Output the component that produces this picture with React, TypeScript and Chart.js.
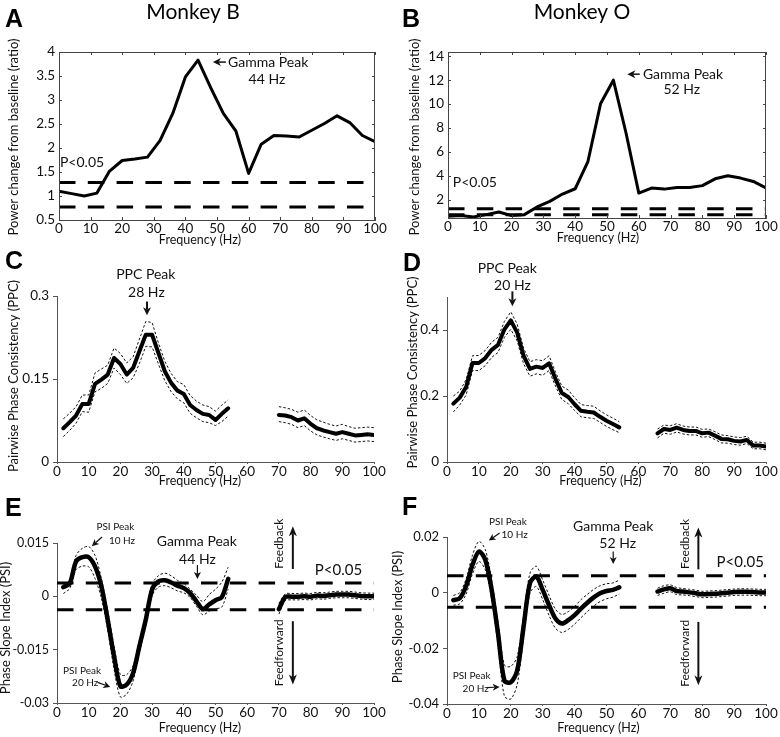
import React, { useEffect, useRef } from 'react';
import { Chart, registerables } from 'chart.js';

Chart.register(...registerables);

const FONT = 'Lato, "Open Sans", sans-serif';
const BOLD = '"Liberation Sans", Arial, sans-serif';

// ---------------- data ----------------
const xTicks = [0, 10, 20, 30, 40, 50, 60, 70, 80, 90, 100];

const freqPower = [0, 4, 8, 12, 16, 20, 24, 28, 32, 36, 40, 44, 48, 52, 56, 60, 64, 68, 72, 76, 80, 84, 88, 92, 96, 100];
const powerMonkeyB = [1.10, 1.05, 1.00, 1.06, 1.52, 1.74, 1.77, 1.81, 2.16, 2.72, 3.48, 3.83, 3.26, 2.72, 2.35, 1.47, 2.08, 2.26, 2.25, 2.23, 2.37, 2.51, 2.67, 2.53, 2.26, 2.13];
const powerMonkeyO = [0.64, 0.70, 0.59, 0.78, 1.00, 0.70, 0.78, 1.42, 1.89, 2.50, 2.94, 5.21, 10.06, 12.0, 7.57, 2.58, 3.00, 2.91, 3.05, 3.05, 3.20, 3.77, 4.02, 3.83, 3.55, 3.00];
const sigPowerB = [1.28, 0.77];
const sigPowerO = [1.28, 0.77];

const ppcFreqB = [2, 4, 6, 8, 10, 12, 14, 16, 18, 20, 22, 24, 26, 28, 30, 32, 34, 36, 38, 40, 42, 44, 46, 48, 50, 52, 54,
  70, 72, 74, 76, 78, 80, 82, 84, 86, 88, 90, 92, 94, 96, 98, 100];
const ppcMeanB = [0.061, 0.072, 0.084, 0.105, 0.105, 0.141, 0.149, 0.158, 0.188, 0.177, 0.158, 0.170, 0.200, 0.230, 0.230, 0.197, 0.164, 0.143, 0.129, 0.123, 0.103, 0.094, 0.087, 0.085, 0.076, 0.087, 0.097,
  0.085, 0.084, 0.081, 0.075, 0.079, 0.069, 0.061, 0.057, 0.054, 0.051, 0.054, 0.051, 0.048, 0.049, 0.050, 0.049];
const ppcUpperB = [0.078, 0.088, 0.100, 0.121, 0.121, 0.161, 0.168, 0.175, 0.206, 0.196, 0.179, 0.190, 0.222, 0.254, 0.252, 0.215, 0.182, 0.160, 0.145, 0.140, 0.120, 0.110, 0.103, 0.100, 0.092, 0.103, 0.112,
  0.100, 0.098, 0.095, 0.090, 0.094, 0.084, 0.076, 0.072, 0.068, 0.065, 0.068, 0.064, 0.061, 0.062, 0.063, 0.062];
const ppcLowerB = [0.046, 0.057, 0.070, 0.091, 0.090, 0.127, 0.133, 0.142, 0.170, 0.158, 0.142, 0.152, 0.178, 0.209, 0.208, 0.177, 0.147, 0.127, 0.114, 0.107, 0.088, 0.080, 0.073, 0.071, 0.066, 0.073, 0.083,
  0.073, 0.071, 0.068, 0.062, 0.066, 0.056, 0.049, 0.045, 0.042, 0.039, 0.042, 0.039, 0.036, 0.037, 0.038, 0.037];

const ppcFreqO = [2, 4, 6, 8, 10, 12, 14, 16, 18, 20, 22, 24, 26, 28, 30, 32, 34, 36, 38, 40, 42, 44, 46, 48, 50, 52, 54,
  66, 68, 70, 72, 74, 76, 78, 80, 82, 84, 86, 88, 90, 92, 94, 96, 98, 100];
const ppcMeanO = [0.177, 0.195, 0.227, 0.300, 0.300, 0.315, 0.340, 0.355, 0.402, 0.429, 0.392, 0.322, 0.282, 0.289, 0.285, 0.299, 0.252, 0.209, 0.197, 0.175, 0.155, 0.152, 0.150, 0.137, 0.125, 0.115, 0.105,
  0.087, 0.100, 0.097, 0.104, 0.097, 0.094, 0.094, 0.087, 0.089, 0.080, 0.070, 0.069, 0.064, 0.062, 0.067, 0.050, 0.050, 0.047];
const ppcUpperO = [0.200, 0.215, 0.250, 0.322, 0.323, 0.338, 0.363, 0.378, 0.426, 0.455, 0.418, 0.345, 0.304, 0.310, 0.307, 0.322, 0.273, 0.230, 0.218, 0.195, 0.174, 0.171, 0.169, 0.155, 0.143, 0.133, 0.122,
  0.100, 0.112, 0.110, 0.116, 0.109, 0.106, 0.106, 0.099, 0.100, 0.092, 0.082, 0.080, 0.076, 0.074, 0.078, 0.060, 0.060, 0.057];
const ppcLowerO = [0.152, 0.173, 0.203, 0.277, 0.277, 0.292, 0.317, 0.332, 0.378, 0.402, 0.367, 0.298, 0.260, 0.267, 0.263, 0.277, 0.230, 0.189, 0.177, 0.156, 0.137, 0.134, 0.132, 0.120, 0.108, 0.098, 0.089,
  0.073, 0.087, 0.084, 0.091, 0.085, 0.082, 0.082, 0.075, 0.077, 0.068, 0.058, 0.057, 0.053, 0.051, 0.056, 0.040, 0.040, 0.037];

const psiFreqB = [2, 4, 6, 8, 10, 12, 14, 16, 18, 20, 22, 24, 26, 28, 30, 32, 34, 36, 38, 40, 42, 44, 46, 48, 50, 52, 54,
  70, 72, 74, 76, 78, 80, 82, 84, 86, 88, 90, 92, 94, 96, 98, 100];
const psiMeanB = [0.0026, 0.0036, 0.0098, 0.0110, 0.0110, 0.0084, 0.0028, -0.0066, -0.0169, -0.0253, -0.0248, -0.0216, -0.0140, -0.0066, 0.0019, 0.0042, 0.0045, 0.0039, 0.0030, 0.0023, 0.0009, -0.0014, -0.0036, -0.0023, -0.0011, -0.0002, 0.0049,
  -0.0036, -0.0002, -0.0001, -0.0001, 0.0000, -0.0001, 0.0002, 0.0001, 0.0003, 0.0005, 0.0005, 0.0005, 0.0003, 0.0001, 0.0000, 0.0000];
const psiUpperB = [0.0035, 0.0045, 0.0115, 0.0135, 0.0140, 0.0115, 0.0050, -0.0040, -0.0140, -0.0220, -0.0220, -0.0195, -0.0125, -0.0050, 0.0035, 0.0058, 0.0065, 0.0058, 0.0045, 0.0036, 0.0020, 0.0003, -0.0015, 0.0005, 0.0020, 0.0040, 0.0082,
  -0.0020, 0.0007, 0.0008, 0.0008, 0.0009, 0.0008, 0.0011, 0.0010, 0.0012, 0.0014, 0.0014, 0.0014, 0.0012, 0.0010, 0.0009, 0.0009];
const psiLowerB = [0.0008, 0.0022, 0.0075, 0.0085, 0.0083, 0.0050, -0.0005, -0.0095, -0.0205, -0.0283, -0.0275, -0.0238, -0.0158, -0.0085, 0.0002, 0.0026, 0.0030, 0.0024, 0.0015, 0.0010, -0.0003, -0.0028, -0.0052, -0.0042, -0.0035, -0.0030, 0.0020,
  -0.0050, -0.0012, -0.0010, -0.0010, -0.0009, -0.0010, -0.0007, -0.0008, -0.0006, -0.0004, -0.0004, -0.0004, -0.0006, -0.0008, -0.0009, -0.0009];
const psiSigB = [0.00375, -0.00375];

const psiFreqO = [2, 4, 6, 8, 10, 12, 14, 16, 18, 20, 22, 24, 26, 28, 30, 32, 34, 36, 38, 40, 42, 44, 46, 48, 50, 52, 54,
  66, 68, 70, 72, 74, 76, 78, 80, 82, 84, 86, 88, 90, 92, 94, 96, 98, 100];
const psiMeanO = [-0.0027, -0.0020, 0.0024, 0.0100, 0.0148, 0.0118, 0.0010, -0.0147, -0.0316, -0.0322, -0.0280, -0.0123, 0.0034, 0.0058, 0.0010, -0.0045, -0.0093, -0.0111, -0.0099, -0.0081, -0.0057, -0.0036, -0.0017, -0.0002, 0.0006, 0.0010, 0.0019,
  0.0004, 0.0012, 0.0016, 0.0006, 0.0004, 0.0001, -0.0002, -0.0006, -0.0005, -0.0004, -0.0002, 0.0000, 0.0002, 0.0003, 0.0003, 0.0002, 0.0001, 0.0001];
const psiUpperO = [-0.0010, 0.0000, 0.0050, 0.0135, 0.0184, 0.0155, 0.0045, -0.0105, -0.0260, -0.0265, -0.0230, -0.0085, 0.0070, 0.0095, 0.0045, -0.0010, -0.0060, -0.0078, -0.0068, -0.0050, -0.0025, -0.0006, 0.0012, 0.0025, 0.0032, 0.0035, 0.0045,
  0.0016, 0.0025, 0.0028, 0.0018, 0.0015, 0.0012, 0.0009, 0.0005, 0.0006, 0.0007, 0.0009, 0.0011, 0.0013, 0.0014, 0.0014, 0.0013, 0.0012, 0.0012];
const psiLowerO = [-0.0045, -0.0040, -0.0005, 0.0068, 0.0112, 0.0082, -0.0025, -0.0190, -0.0372, -0.0382, -0.0330, -0.0160, -0.0002, 0.0022, -0.0025, -0.0082, -0.0128, -0.0143, -0.0132, -0.0113, -0.0090, -0.0068, -0.0048, -0.0032, -0.0022, -0.0016, -0.0005,
  -0.0010, -0.0002, 0.0003, -0.0007, -0.0008, -0.0011, -0.0014, -0.0018, -0.0017, -0.0016, -0.0014, -0.0012, -0.0010, -0.0009, -0.0009, -0.0010, -0.0011, -0.0011];
const psiSigO = [0.0061, -0.0052];

const yTicksA = [0.5, 1, 1.5, 2, 2.5, 3, 3.5, 4];
const yTicksB = [2, 4, 6, 8, 10, 12, 14];
const yTicksC = [0, 0.15, 0.3];
const yTicksD = [0, 0.2, 0.4];
const yTicksE = [-0.03, -0.015, 0, 0.015];
const yTicksF = [-0.04, -0.02, 0, 0.02];
const yLabelsE = ['-0.03', '-0.015', '0', '0.015'];
const yLabelsF = ['-0.04', '-0.02', '0', '0.02'];

// ---------------- helpers ----------------
function pts(f: number[], v: number[]) {
  const out: { x: number; y: number | null }[] = [];
  for (let i = 0; i < f.length; i++) {
    if (i > 0 && f[i] - f[i - 1] > 5) out.push({ x: (f[i] + f[i - 1]) / 2, y: null });
    out.push({ x: f[i], y: v[i] });
  }
  return out;
}
const solid = (data: any[], w: number, tension = 0) => ({
  data, borderColor: '#000', borderWidth: w, pointRadius: 0, tension, spanGaps: false, fill: false,
  borderJoinStyle: 'round', borderCapStyle: 'round',
});
const dotted = (data: any[], tension = 0) => ({
  data, borderColor: '#111', borderWidth: 1, borderDash: [2.5, 2], pointRadius: 0, tension, spanGaps: false, fill: false,
});
const dashed = (y: number) => ({
  data: [{ x: 0, y }, { x: 100, y }], borderColor: '#000', borderWidth: 3, borderDash: [16.5, 12.3],
  pointRadius: 0, fill: false,
});

function txt(ctx: CanvasRenderingContext2D, s: string, x: number, y: number, size: number, align: CanvasTextAlign = 'center', rot = 0) {
  ctx.save();
  ctx.font = `${size}px ${FONT}`;
  ctx.fillStyle = '#111';
  ctx.textAlign = align;
  ctx.textBaseline = 'middle';
  ctx.translate(x, y);
  if (rot) ctx.rotate(rot);
  ctx.fillText(s, 0, 0);
  ctx.restore();
}

function arrow(ctx: CanvasRenderingContext2D, x1: number, y1: number, x2: number, y2: number, hl: number, hw: number, lw: number) {
  const a = Math.atan2(y2 - y1, x2 - x1);
  const ca = Math.cos(a), sa = Math.sin(a);
  const bx = x2 - ca * hl, by = y2 - sa * hl;
  const nx = x2 - ca * hl * 0.72, ny = y2 - sa * hl * 0.72;
  ctx.save();
  ctx.strokeStyle = '#111';
  ctx.fillStyle = '#111';
  ctx.lineWidth = lw;
  ctx.beginPath();
  ctx.moveTo(x1, y1);
  ctx.lineTo(nx, ny);
  ctx.stroke();
  const px = -sa * hw / 2, py = ca * hw / 2;
  ctx.beginPath();
  ctx.moveTo(x2, y2);
  ctx.lineTo(bx + px, by + py);
  ctx.lineTo(nx, ny);
  ctx.lineTo(bx - px, by - py);
  ctx.closePath();
  ctx.fill();
  ctx.restore();
}

type Fn = (v: number) => number;
type Spec = {
  key: string; cx: number; cy: number; cw: number; ch: number;
  plot: { l: number; t: number; r: number; b: number };
  yMin: number; yMax: number; yTicks: number[]; yLabels?: string[]; yTickSize?: number;
  box: boolean; datasets: any[];
  yTitle: string; yTitleDx: number; yTitleDy: number;
  xTitleDx: number; xTitleDy: number;
  letter: string; letterX: number; letterY: number;
  heading?: string; headingX?: number; headingY?: number;
  annotate: (ctx: CanvasRenderingContext2D, X: Fn, Y: Fn) => void;
};

function makeConfig(s: Spec): any {
  const plugin = {
    id: 'decor' + s.key,
    afterDraw(chart: any) {
      const ctx: CanvasRenderingContext2D = chart.ctx;
      const xs = chart.scales.x, ys = chart.scales.y;
      const X = (v: number) => xs.getPixelForValue(v);
      const Y = (v: number) => ys.getPixelForValue(v);
      const a = chart.chartArea;
      ctx.save();
      if (s.box) {
        ctx.strokeStyle = '#444';
        ctx.lineWidth = 1;
        ctx.strokeRect(a.left + 0.5, a.top + 0.5, a.right - a.left - 1, a.bottom - a.top);
        ctx.beginPath();
        for (const v of xTicks) {
          const px = Math.round(X(v)) + 0.5;
          ctx.moveTo(px, a.top); ctx.lineTo(px, a.top + 3);
          ctx.moveTo(px, a.bottom); ctx.lineTo(px, a.bottom - 3);
        }
        for (const v of s.yTicks) {
          const py = Math.round(Y(v)) + 0.5;
          ctx.moveTo(a.left, py); ctx.lineTo(a.left + 3, py);
          ctx.moveTo(a.right, py); ctx.lineTo(a.right - 3, py);
        }
        ctx.stroke();
      }
      // axis titles
      txt(ctx, 'Frequency (Hz)', (a.left + a.right) / 2 + s.xTitleDx, a.bottom + s.xTitleDy, 12.5);
      txt(ctx, s.yTitle, a.left + s.yTitleDx, (a.top + a.bottom) / 2 + s.yTitleDy, 13, 'center', -Math.PI / 2);
      // panel letter
      ctx.font = `bold 25px ${BOLD}`;
      ctx.fillStyle = '#000';
      ctx.textAlign = 'left';
      ctx.textBaseline = 'alphabetic';
      ctx.fillText(s.letter, s.letterX, s.letterY);
      if (s.heading) {
        ctx.font = `21px ${FONT}`;
        ctx.textAlign = 'center';
        ctx.fillText(s.heading, s.headingX!, s.headingY!);
      }
      s.annotate(ctx, X, Y);
      ctx.restore();
    },
  };
  const axisColor = '#555';
  return {
    type: 'line',
    data: { datasets: s.datasets },
    options: {
      animation: false,
      responsive: false,
      maintainAspectRatio: false,
      devicePixelRatio: 1,
      layout: { padding: { left: 0, top: s.plot.t - s.cy, right: s.cx + s.cw - s.plot.r, bottom: 0 } },
      plugins: { legend: { display: false }, tooltip: { enabled: false }, title: { display: false } },
      elements: { point: { radius: 0 } },
      scales: {
        x: {
          type: 'linear', min: 0, max: 100,
          afterBuildTicks: (sc: any) => { sc.ticks = xTicks.map((v) => ({ value: v })); },
          afterFit: (sc: any) => { sc.height = s.cy + s.ch - s.plot.b; },
          ticks: { font: { family: FONT, size: 13.5 }, color: '#111', padding: s.box ? 1 : 0, maxRotation: 0, autoSkip: false },
          grid: { drawOnChartArea: false, drawTicks: !s.box, tickLength: 2, color: axisColor },
          border: { display: true, color: axisColor, width: 1 },
        },
        y: {
          type: 'linear', min: s.yMin, max: s.yMax,
          afterBuildTicks: (sc: any) => { sc.ticks = s.yTicks.map((v) => ({ value: v })); },
          afterFit: (sc: any) => { sc.width = s.plot.l - s.cx; },
          ticks: {
            font: { family: FONT, size: s.yTickSize ?? 13.5 }, color: '#111', padding: 4, autoSkip: false,
            callback: (v: number) => (s.yLabels ? s.yLabels[s.yTicks.indexOf(v)] : String(v)),
          },
          grid: { drawOnChartArea: false, drawTicks: !s.box, tickLength: 4, color: axisColor },
          border: { display: true, color: axisColor, width: 1 },
        },
      },
    },
    plugins: [plugin],
  };
}

const specs: Spec[] = [
  {
    key: 'A', cx: 0, cy: 0, cw: 390, ch: 250, plot: { l: 59, t: 52, r: 375, b: 220 },
    yMin: 0.5, yMax: 4, yTicks: yTicksA, box: true,
    datasets: [solid(pts(freqPower, powerMonkeyB), 3), dashed(sigPowerB[0]), dashed(sigPowerB[1])],
    yTitle: 'Power change from baseline (ratio)', yTitleDx: -45, yTitleDy: 1,
    xTitleDx: -17, xTitleDy: 20,
    letter: 'A', letterX: 5, letterY: 27, heading: 'Monkey B', headingX: 193, headingY: 19,
    annotate: (ctx, X, Y) => {
      arrow(ctx, X(52.8), Y(3.79), X(48.7), Y(3.79), 8, 8, 1.5);
      txt(ctx, 'Gamma Peak', X(53.5), Y(3.79), 14, 'left');
      txt(ctx, '44 Hz', X(65.8), Y(3.42), 14);
      txt(ctx, 'P<0.05', X(0.3), Y(1.69), 14, 'left');
    },
  },
  {
    key: 'B', cx: 390, cy: 0, cw: 390, ch: 250, plot: { l: 448, t: 52, r: 766, b: 218 },
    yMin: 0.5, yMax: 14.35, yTicks: yTicksB, box: true,
    datasets: [solid(pts(freqPower, powerMonkeyO), 3), dashed(sigPowerO[0]), dashed(sigPowerO[1])],
    yTitle: 'Power change from baseline (ratio)', yTitleDx: -33, yTitleDy: 2,
    xTitleDx: -9, xTitleDy: 20,
    letter: 'B', letterX: 12, letterY: 27, heading: 'Monkey O', headingX: 192, headingY: 19,
    annotate: (ctx, X, Y) => {
      arrow(ctx, X(60.3), Y(12.5), X(56.4), Y(12.5), 8, 8, 1.5);
      txt(ctx, 'Gamma Peak', X(61.3), Y(12.5), 14, 'left');
      txt(ctx, '52 Hz', X(73.5), Y(11.2), 14);
      txt(ctx, 'P<0.05', X(1.5), Y(3.5), 14, 'left');
    },
  },
  {
    key: 'C', cx: 0, cy: 250, cw: 390, ch: 240, plot: { l: 57, t: 296, r: 374, b: 462 },
    yMin: 0, yMax: 0.3, yTicks: yTicksC, box: false,
    datasets: [solid(pts(ppcFreqB, ppcMeanB), 4), dotted(pts(ppcFreqB, ppcUpperB)), dotted(pts(ppcFreqB, ppcLowerB))],
    yTitle: 'Pairwise Phase Consistency (PPC)', yTitleDx: -43, yTitleDy: -3,
    xTitleDx: -15.5, xTitleDy: 18.5,
    letter: 'C', letterX: 5, letterY: 19,
    annotate: (ctx, X, Y) => {
      txt(ctx, 'PPC Peak', X(28.0), Y(0.338), 14);
      txt(ctx, '28 Hz', X(28.2), Y(0.307), 14);
      arrow(ctx, X(28.4), Y(0.290), X(28.4), Y(0.265), 8, 8, 2);
    },
  },
  {
    key: 'D', cx: 390, cy: 250, cw: 390, ch: 240, plot: { l: 447, t: 297, r: 766, b: 462 },
    yMin: 0, yMax: 0.5, yTicks: yTicksD, box: false,
    datasets: [solid(pts(ppcFreqO, ppcMeanO), 4), dotted(pts(ppcFreqO, ppcUpperO)), dotted(pts(ppcFreqO, ppcLowerO))],
    yTitle: 'Pairwise Phase Consistency (PPC)', yTitleDx: -34.5, yTitleDy: -7,
    xTitleDx: -6, xTitleDy: 18.5,
    letter: 'D', letterX: 13, letterY: 21,
    annotate: (ctx, X, Y) => {
      txt(ctx, 'PPC Peak', X(18.9), Y(0.587), 14);
      txt(ctx, '20 Hz', X(20.5), Y(0.534), 14);
      arrow(ctx, X(20.5), Y(0.517), X(20.5), Y(0.472), 8, 8, 2);
    },
  },
  {
    key: 'E', cx: 0, cy: 490, cw: 390, ch: 247, plot: { l: 57, t: 543, r: 374, b: 703 },
    yMin: -0.03, yMax: 0.015, yTicks: yTicksE, yLabels: yLabelsE, yTickSize: 12.5, box: false,
    datasets: [solid(pts(psiFreqB, psiMeanB), 4.5, 0.3), dotted(pts(psiFreqB, psiUpperB), 0.3), dotted(pts(psiFreqB, psiLowerB), 0.3),
      dashed(psiSigB[0]), dashed(psiSigB[1])],
    yTitle: 'Phase Slope Index (PSI)', yTitleDx: -51, yTitleDy: 5,
    xTitleDx: -15.5, xTitleDy: 25,
    letter: 'E', letterX: 5, letterY: 26,
    annotate: (ctx, X, Y) => {
      txt(ctx, 'PSI Peak', X(18.4), Y(0.0197), 10);
      txt(ctx, '10 Hz', X(20.5), Y(0.0155), 10);
      arrow(ctx, X(14.2), Y(0.0167), X(11.0), Y(0.0141), 7, 7, 1.2);
      txt(ctx, 'PSI Peak', X(7.9), Y(-0.0208), 10);
      txt(ctx, '20 Hz', X(8.9), Y(-0.0244), 10);
      arrow(ctx, X(12.8), Y(-0.0242), X(16.8), Y(-0.0255), 7, 7, 1.2);
      txt(ctx, 'Gamma Peak', X(44.1), Y(0.0155), 14);
      txt(ctx, '44 Hz', X(44.3), Y(0.0103), 14);
      arrow(ctx, X(44.3), Y(0.0088), X(44.3), Y(0.0049), 7, 7, 1.2);
      txt(ctx, 'P<0.05', X(88.8), Y(0.0073), 15);
      txt(ctx, 'Feedback', X(70.2), Y(0.0148), 12, 'center', -Math.PI / 2);
      arrow(ctx, X(74.4), Y(0.0077), X(74.4), Y(0.0197), 10, 8, 2);
      txt(ctx, 'Feedforward', X(70.2), Y(-0.0159), 12, 'center', -Math.PI / 2);
      arrow(ctx, X(74.4), Y(-0.0070), X(74.4), Y(-0.0248), 10, 8, 2);
    },
  },
  {
    key: 'F', cx: 390, cy: 490, cw: 390, ch: 247, plot: { l: 447, t: 537, r: 766, b: 704 },
    yMin: -0.04, yMax: 0.02, yTicks: yTicksF, yLabels: yLabelsF, yTickSize: 13, box: false,
    datasets: [solid(pts(psiFreqO, psiMeanO), 4.5, 0.3), dotted(pts(psiFreqO, psiUpperO), 0.3), dotted(pts(psiFreqO, psiLowerO), 0.3),
      dashed(psiSigO[0]), dashed(psiSigO[1])],
    yTitle: 'Phase Slope Index (PSI)', yTitleDx: -49.5, yTitleDy: -3.5,
    xTitleDx: -8, xTitleDy: 24,
    letter: 'F', letterX: 12, letterY: 25,
    annotate: (ctx, X, Y) => {
      txt(ctx, 'PSI Peak', X(19.1), Y(0.0256), 10);
      txt(ctx, '10 Hz', X(21.2), Y(0.0208), 10);
      arrow(ctx, X(16.5), Y(0.0214), X(13.1), Y(0.0187), 7, 7, 1.2);
      txt(ctx, 'PSI Peak', X(7.7), Y(-0.0297), 10);
      txt(ctx, '20 Hz', X(9.0), Y(-0.0345), 10);
      arrow(ctx, X(12.4), Y(-0.0341), X(16.5), Y(-0.0339), 7, 7, 1.2);
      txt(ctx, 'Gamma Peak', X(52.1), Y(0.0238), 14);
      txt(ctx, '52 Hz', X(53.5), Y(0.0178), 14);
      arrow(ctx, X(52.1), Y(0.0148), X(52.1), Y(0.0103), 7, 7, 1.2);
      txt(ctx, 'P<0.05', X(91.9), Y(0.011), 15);
      txt(ctx, 'Feedback', X(74.6), Y(0.0175), 12, 'center', -Math.PI / 2);
      arrow(ctx, X(78.8), Y(0.0084), X(78.8), Y(0.0234), 10, 8, 2);
      txt(ctx, 'Feedforward', X(74.6), Y(-0.0218), 12, 'center', -Math.PI / 2);
      arrow(ctx, X(78.8), Y(-0.0105), X(78.8), Y(-0.0333), 10, 8, 2);
    },
  },
];

function Panel({ spec }: { spec: Spec }) {
  const ref = useRef<HTMLCanvasElement>(null);
  useEffect(() => {
    const chart = new Chart(ref.current!, makeConfig(spec));
    return () => chart.destroy();
  }, [spec]);
  return (
    <canvas
      ref={ref}
      width={spec.cw}
      height={spec.ch}
      style={{ position: 'absolute', left: spec.cx, top: spec.cy, width: spec.cw, height: spec.ch }}
    />
  );
}

export default function App() {
  return (
    <div style={{ position: 'absolute', left: 0, top: 0, width: 780, height: 737, background: '#fff', overflow: 'hidden' }}>
      {specs.map((s) => (
        <Panel key={s.key} spec={s} />
      ))}
    </div>
  );
}
